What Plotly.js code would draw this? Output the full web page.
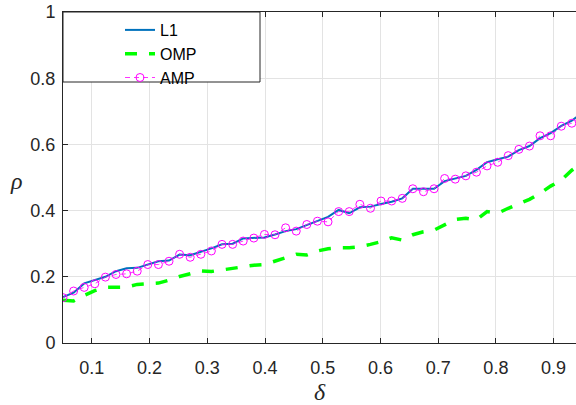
<!DOCTYPE html>
<html>
<head>
<meta charset="utf-8">
<script src="https://cdn.plot.ly/plotly-3.0.1.min.js"></script>
<style>html,body{margin:0;padding:0;background:#fff;}#chart{width:576px;height:405px;}</style>
</head>
<body>
<div id="chart"></div>
<script>
var delta = [0.0500,0.0684,0.0867,0.1051,0.1235,0.1418,0.1602,0.1786,0.1969,0.2153,
             0.2337,0.2520,0.2704,0.2888,0.3071,0.3255,0.3439,0.3622,0.3806,0.3990,
             0.4173,0.4357,0.4541,0.4724,0.4908,0.5092,0.5276,0.5459,0.5643,0.5827,
             0.6010,0.6194,0.6378,0.6561,0.6745,0.6929,0.7112,0.7296,0.7480,0.7663,
             0.7847,0.8031,0.8214,0.8398,0.8582,0.8765,0.8949,0.9133,0.9316,0.9500];
var rhoL1 = [0.139,0.152,0.180,0.189,0.200,0.217,0.226,0.227,0.238,0.247,
             0.249,0.267,0.265,0.275,0.286,0.298,0.300,0.316,0.318,0.319,
             0.328,0.338,0.344,0.357,0.368,0.381,0.402,0.392,0.410,0.412,
             0.420,0.427,0.437,0.466,0.466,0.466,0.489,0.498,0.505,0.523,
             0.546,0.555,0.563,0.583,0.595,0.619,0.634,0.656,0.672,0.695];
var rhoOMP = [0.129,0.127,0.144,0.158,0.168,0.168,0.169,0.177,0.178,0.181,
              0.190,0.201,0.209,0.218,0.216,0.221,0.226,0.231,0.235,0.237,
              0.248,0.257,0.268,0.266,0.278,0.285,0.288,0.288,0.291,0.298,
              0.306,0.318,0.311,0.327,0.336,0.341,0.358,0.373,0.377,0.372,
              0.397,0.392,0.407,0.420,0.434,0.452,0.474,0.492,0.522,0.545];
var rhoAMP = [0.137,0.157,0.168,0.179,0.199,0.207,0.209,0.217,0.237,0.237,
              0.247,0.268,0.259,0.268,0.278,0.298,0.298,0.308,0.317,0.328,
              0.327,0.348,0.338,0.358,0.368,0.366,0.397,0.397,0.419,0.407,
              0.429,0.429,0.437,0.466,0.457,0.466,0.497,0.495,0.505,0.516,
              0.535,0.546,0.566,0.585,0.595,0.626,0.626,0.655,0.664,0.690];
var seriesNames = ['L1','OMP','AMP'];
var xTicks = [0.1,0.2,0.3,0.4,0.5,0.6,0.7,0.8,0.9];
var xTickText = ['0.1','0.2','0.3','0.4','0.5','0.6','0.7','0.8','0.9'];
var yTicks = [0,0.2,0.4,0.6,0.8,1];
var yTickText = ['0','0.2','0.4','0.6','0.8','1'];

var traces = [
  {x: delta, y: rhoL1, name: seriesNames[0], type: 'scatter', mode: 'lines',
   line: {color: '#0072BD', width: 2}},
  {x: delta, y: rhoOMP, name: seriesNames[1], type: 'scatter', mode: 'lines',
   line: {color: '#00FF00', width: 3.5, dash: '12px,12px'}},
  {x: delta, y: rhoAMP, name: seriesNames[2], type: 'scatter', mode: 'lines+markers',
   line: {color: '#FF00FF', width: 0.8, dash: '5px,4px'},
   marker: {symbol: 'circle-open', size: 8, color: '#FF00FF', line: {width: 1, color: '#FF00FF'}}}
];

var axisCommon = {
  showgrid: true, gridcolor: '#e3e3e3', gridwidth: 1,
  zeroline: false, showline: true, linecolor: '#262626', linewidth: 1,
  ticks: 'inside', ticklen: 5, tickcolor: '#262626',
  tickfont: {family: 'Liberation Sans, Arial, sans-serif', size: 18, color: '#262626'}
};

var layout = {
  width: 576, height: 405,
  margin: {l: 63, r: 0, t: 12, b: 62},
  paper_bgcolor: '#ffffff', plot_bgcolor: '#ffffff',
  showlegend: true,
  xaxis: Object.assign({}, axisCommon, {
    range: [0.05, 0.9388], tickvals: xTicks, ticktext: xTickText, mirror: 'ticks',
    ticklabelstandoff: 8,
    title: {text: 'δ', standoff: 6, font: {family: 'Liberation Serif, serif', size: 24, color: '#262626', style: 'italic'}}
  }),
  yaxis: Object.assign({}, axisCommon, {
    range: [0, 1], tickvals: yTicks, ticktext: yTickText, mirror: false,
    ticklabelstandoff: 3
  }),
  annotations: [{
    text: '<i>ρ</i>', xref: 'paper', yref: 'paper', x: (16 - 63) / 513, y: 0.49,
    xanchor: 'center', yanchor: 'middle', showarrow: false, textangle: 0,
    font: {family: 'Liberation Serif, serif', size: 24, color: '#262626'}
  }],
  shapes: [{
    type: 'rect', xref: 'paper', yref: 'paper', layer: 'above',
    x0: 0, x1: (260 - 63) / 513, y0: 1 - (82 - 12) / 331, y1: 1,
    fillcolor: '#ffffff', line: {color: '#262626', width: 1}
  }],
  legend: {
    x: (120 - 63) / 513, y: 1 - 1 / 331, xanchor: 'left', yanchor: 'top',
    bgcolor: 'rgba(0,0,0,0)', borderwidth: 0,
    font: {family: 'Liberation Sans, Arial, sans-serif', size: 16, color: '#000000'},
    tracegroupgap: 0
  }
};

Plotly.newPlot('chart', traces, layout, {displayModeBar: false, staticPlot: true});
</script>
</body>
</html>
